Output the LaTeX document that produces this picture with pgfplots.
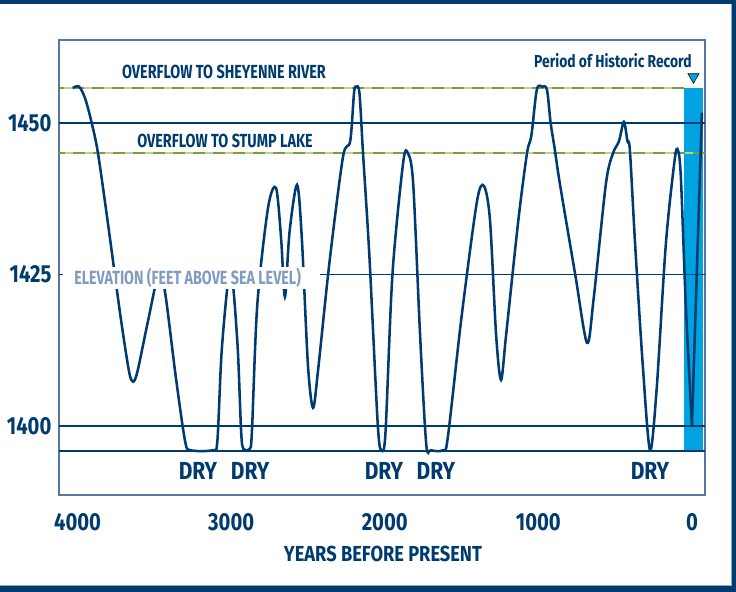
\documentclass[border=0pt]{standalone}
\usepackage{fontspec}
\setmainfont{Fira Sans}[FakeStretch=0.8]
\newfontfamily\ftick{Fira Sans}[FakeStretch=0.82]
\newfontfamily\fover{Fira Sans}[FakeStretch=0.76]
\newfontfamily\fper{Fira Sans}[FakeStretch=0.8]
\newfontfamily\fdry{Fira Sans}[FakeStretch=0.85]
\newfontfamily\felev{Fira Sans}[FakeStretch=0.75]
\newfontfamily\fxl{Fira Sans}[FakeStretch=0.84]
\usepackage{pgfplots}
\pgfplotsset{compat=1.18}
\definecolor{navy}{RGB}{0,59,111}
\definecolor{framecol}{RGB}{84,118,160}
\definecolor{barcyan}{RGB}{0,163,224}
\definecolor{olive}{RGB}{122,158,58}
\definecolor{lightgreen}{RGB}{190,210,150}
\definecolor{labelgrey}{RGB}{127,156,192}
\definecolor{edgegrey}{RGB}{150,170,195}
\begin{document}
\begin{tikzpicture}[x=0.75pt,y=0.75pt]
\begin{axis}[
  scale only axis,
  width=484.5pt, height=341.25pt,
  x dir=reverse, xmin=-85, xmax=4121, ymin=1388.6, ymax=1463.7,
  xtick={0,1000,2000,3000,4000}, ytick={1400,1425,1450},
  major tick length=0pt,
  axis line style={framecol, line width=1.1pt},
  tick label style={font=\ftick\bfseries\fontsize{18.5}{20}\selectfont, text=navy, inner sep=0pt},
  /pgf/number format/assume math mode=true,
  /pgf/number format/set thousands separator={},
  yticklabel style={anchor=east, xshift=-5.5pt},
  xticklabel style={anchor=north, yshift=-13.5pt},
  xlabel={YEARS BEFORE PRESENT},
  xlabel style={at={(axis description cs:0.5015,0)}, anchor=north, inner sep=0pt, yshift=-38pt,
    font=\fxl\bfseries\fontsize{16.3}{18}\selectfont, text=navy},
  clip=true,
]
\coordinate (A) at (axis cs:4121,1388.6);
% historic record bar
\addplot[fill=barcyan, draw=none] coordinates {(52,1395.9) (52,1455.8) (-72,1455.8) (-72,1395.9)} -- cycle;
% horizontal reference lines
\addplot[navy, line width=1.35pt] coordinates {(-85,1450) (4121,1450)};
\addplot[navy, line width=1.35pt] coordinates {(-85,1425) (4121,1425)};
\addplot[navy, line width=1.35pt] coordinates {(-85,1400) (4121,1400)};
\addplot[navy, line width=1.35pt] coordinates {(-85,1395.9) (4121,1395.9)};
% overflow thresholds
\addplot[lightgreen, line width=1.5pt] coordinates {(52,1455.8) (4121,1455.8)};
\addplot[olive, line width=1.5pt, dash pattern=on 9pt off 6pt] coordinates {(52,1455.8) (4121,1455.8)};
\addplot[lightgreen, line width=1.3pt] coordinates {(-85,1445) (4121,1445)};
\addplot[olive, line width=1.3pt, dash pattern=on 9pt off 6pt] coordinates {(-85,1445) (4121,1445)};
% lake elevation
\addplot[navy, line width=1.9pt, smooth, tension=0.5] coordinates {
(4030,1455.8) (3990,1456) (3950,1454) (3908,1450) (3867,1445) (3800,1433)
(3720,1418) (3665,1409) (3639,1407.3) (3610,1409) (3540,1417.5) (3470,1425.3)
(3430,1422) (3360,1408) (3300,1397.5) (3265,1396) (3120,1396) (3090,1397.5)
(3060,1413) (3005,1425.8) (2960,1414) (2935,1399) (2920,1396.2) (2880,1396.2)
(2865,1399) (2830,1420) (2760,1436) (2708,1439.3) (2675,1431) (2650,1421.3)
(2620,1432) (2571,1439.8) (2540,1431) (2500,1410) (2467,1403) (2435,1409)
(2360,1427) (2272,1444.4) (2225,1447) (2200,1455) (2187,1456) (2165,1455)
(2142,1445.2) (2100,1428) (2045,1400) (2020,1396) (1995,1399) (1950,1425)
(1880,1443.5) (1849,1445) (1815,1440) (1770,1415) (1730,1397) (1700,1396)
(1620,1396) (1590,1398) (1500,1418) (1400,1437) (1354,1439.6) (1315,1434)
(1275,1415) (1243,1407.6) (1210,1415) (1130,1434) (1074,1445) (1045,1448)
(1010,1455.5) (975,1456) (944,1455.5) (920,1450) (892,1445.5) (860,1440)
(760,1425) (683,1413.7) (640,1421) (560,1440) (514,1445) (475,1447)
(443,1450.2) (420,1447) (404,1445.5) (370,1430) (320,1410) (273,1396)
(230,1406) (170,1430) (112,1444) (91,1445.5) (72,1441) (40,1420) (0,1400.2)};
\addplot[navy, line width=1.9pt] coordinates {(0,1400.2) (-65,1451.7)};
% marker above bar
\addplot[only marks, mark=triangle*, mark size=4.8pt, mark options={rotate=180, fill=barcyan, draw=none}] coordinates {(-10,1457.6)};
% elevation label with white box
\fill[white] (axis cs:4095,1426.2) rectangle (axis cs:2422,1422.6);
\node[anchor=base west, inner sep=0pt, text=labelgrey, font=\felev\bfseries\fontsize{14.3}{16}\selectfont] at (axis cs:4023,1423.3) {ELEVATION (FEET ABOVE SEA LEVEL)};
% annotations
\node[anchor=base, inner sep=0pt, text=navy, font=\fover\bfseries\fontsize{14.2}{16}\selectfont] at (axis cs:3047,1457.3) {OVERFLOW TO SHEYENNE RIVER};
\node[anchor=base, inner sep=0pt, text=navy, font=\fover\bfseries\fontsize{14.2}{16}\selectfont] at (axis cs:3040,1445.9) {OVERFLOW TO STUMP LAKE};
\node[anchor=base east, inner sep=0pt, text=navy, font=\fper\bfseries\fontsize{13}{15}\selectfont] at (axis cs:0,1459.1) {Period of Historic Record};
\node[anchor=base, inner sep=0pt, text=navy, font=\fdry\bfseries\fontsize{18.5}{20}\selectfont] at (axis cs:3216,1391.1) {DRY};
\node[anchor=base, inner sep=0pt, text=navy, font=\fdry\bfseries\fontsize{18.5}{20}\selectfont] at (axis cs:2877,1391.1) {DRY};
\node[anchor=base, inner sep=0pt, text=navy, font=\fdry\bfseries\fontsize{18.5}{20}\selectfont] at (axis cs:2005,1391.1) {DRY};
\node[anchor=base, inner sep=0pt, text=navy, font=\fdry\bfseries\fontsize{18.5}{20}\selectfont] at (axis cs:1667,1391.1) {DRY};
\node[anchor=base, inner sep=0pt, text=navy, font=\fdry\bfseries\fontsize{18.5}{20}\selectfont] at (axis cs:273,1391.1) {DRY};
\end{axis}
\begin{scope}[shift={(A)}]
\path[use as bounding box] (-59,-97) rectangle (677,495);
\draw[edgegrey, line width=0.9pt] (-59,-90.6) -- (672.3,-90.6) -- (672.3,490.5);
\fill[navy] (-59,490.5) rectangle (677,495);
\fill[navy] (-59,-97) rectangle (677,-91.5);
\fill[navy] (673.3,-97) rectangle (677,495);
\end{scope}
\end{tikzpicture}
\end{document}
